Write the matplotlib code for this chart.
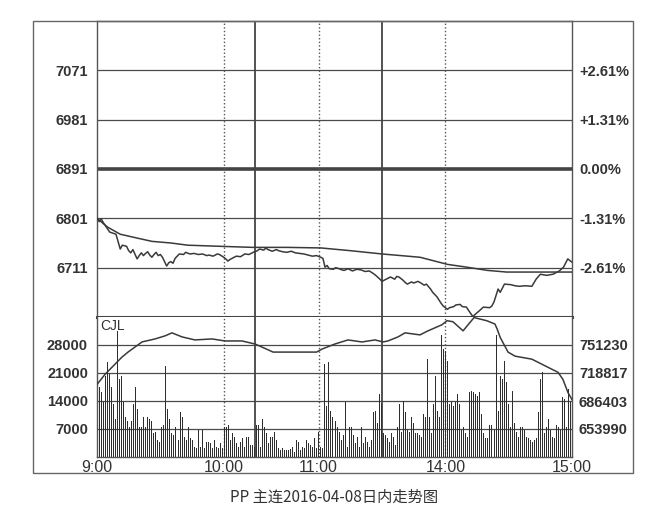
import numpy as np
import matplotlib
matplotlib.use("Agg")
import matplotlib.pyplot as plt
from matplotlib.patches import Rectangle

plt.rcParams['font.family'] = ['Liberation Sans', 'DejaVu Sans']

# ---------------- data ----------------
prev_settle = 6891
price_levels = [6711, 6801, 6891, 6981, 7071]

price_min = [0, 1, 2, 3, 6, 9, 11, 12, 14, 15, 16, 17, 19, 20, 21, 22, 23, 24, 25, 26,
             27, 28, 29, 30, 31, 32, 33, 34, 35, 36, 37, 39, 41, 42, 44, 46, 48, 50, 52, 53,
             55, 57, 58, 60, 61, 62, 63, 64, 66, 68, 70, 72, 74, 76, 77, 79, 80, 81, 83, 85,
             86, 88, 90, 92, 94, 96, 98, 100, 102, 104, 106, 107, 108, 109, 110, 112, 113, 114,
             116, 117, 119, 121, 123, 125, 127, 129, 131, 132, 134, 135, 137, 139, 140, 141,
             142, 143, 145, 146, 147, 149, 150, 152, 153, 155, 156, 158, 159, 161, 162, 163,
             164, 166, 167, 169, 170, 172, 173, 175, 176, 178, 181, 183, 186, 187, 188, 190,
             191, 193, 196, 198, 200, 203, 206, 208, 210, 213, 216, 219, 221, 223, 225]
price_val = [6801, 6795, 6800, 6793, 6776, 6772, 6745, 6752, 6750, 6742, 6738, 6744, 6727, 6733,
             6738, 6733, 6737, 6740, 6734, 6730, 6735, 6739, 6733, 6735, 6730, 6722, 6714, 6720,
             6722, 6719, 6728, 6736, 6735, 6739, 6736, 6737, 6735, 6736, 6733, 6734, 6732, 6736,
             6735, 6730, 6727, 6723, 6726, 6728, 6732, 6731, 6736, 6735, 6739, 6742, 6745, 6743,
             6747, 6744, 6741, 6744, 6742, 6740, 6739, 6741, 6738, 6737, 6736, 6734, 6732, 6733,
             6730, 6728, 6712, 6715, 6709, 6708, 6711, 6710, 6707, 6706, 6709, 6705, 6708, 6707,
             6704, 6705, 6700, 6697, 6690, 6686, 6690, 6694, 6692, 6690, 6695, 6694, 6688, 6684,
             6681, 6685, 6683, 6686, 6684, 6679, 6681, 6672, 6666, 6658, 6652, 6646, 6641, 6635,
             6638, 6640, 6643, 6644, 6640, 6639, 6633, 6622, 6632, 6639, 6638, 6641, 6648, 6672,
             6666, 6681, 6680, 6678, 6677, 6678, 6677, 6690, 6699, 6697, 6699, 6705, 6712, 6727,
             6721]

avg_min = [0, 5, 11, 19, 26, 35, 43, 58, 74, 90, 106, 120, 135, 153, 166, 175, 185, 194, 225]
avg_val = [6801, 6785, 6772, 6765, 6759, 6756, 6752, 6750, 6748, 6748, 6747, 6742, 6736, 6730,
           6717, 6712, 6706, 6703, 6703]

vol_levels = [7000, 14000, 21000, 28000]
oi_levels = [653990, 686403, 718817, 751230]

volume = [31400, 17500, 16200, 13700, 20300, 23800, 20800, 17500, 13200, 9400,
          31400, 19500, 20300, 13700, 10100, 8900, 7600, 8900, 13200, 17500,
          11900, 7600, 7400, 9900, 7600, 10100, 9400, 8900, 6100, 6300,
          4300, 3800, 7400, 8100, 22800, 11900, 9400, 6100, 5600, 7600,
          4300, 11200, 9900, 5100, 4300, 7400, 4800, 4300, 2500, 2300,
          6800, 2500, 6800, 2300, 3800, 3800, 3600, 2300, 4300, 2500,
          2300, 3600, 2300, 7600, 7400, 8100, 4300, 6100, 5100, 3600,
          2500, 3800, 4800, 2500, 5100, 5100, 3000, 3000, 2500, 8100,
          8100,
          2500, 9400, 7400, 6100, 3600, 5100, 5100, 6300, 4300, 2300,
          1800, 2300, 1800, 1800, 1800, 2000, 2500, 1300, 4300, 3800,
          1800, 2500, 2300, 4300, 3600, 3000, 2500, 4800, 2300, 6300,
          2500, 2300, 23300, 12700, 23800, 11400, 9900, 8900, 7600, 6300,
          4300, 5600, 13700, 2500, 7400, 7600, 5600, 3600, 5100, 2500,
          7400, 3600, 5100, 3800, 2500, 4300, 11200, 11400, 8600, 15700,
          13200, 6100, 5600, 4800, 3800, 6100, 5100, 3000, 7400, 13200,
          6300, 13900, 11200, 6800, 6300, 9900, 8600, 6100, 6100,
          5600, 5100, 10700, 10100, 24600, 9900, 6100, 13200, 20300, 11400,
          10100, 30400, 27100, 26600, 24100, 13200, 13700, 12700, 13700, 15700,
          13200, 6800, 7400, 6100, 5100, 16200, 16500, 16200, 15700, 15200,
          16200, 10700, 6100, 4800, 4800, 8100, 8100, 6800, 30400, 11400,
          20300, 19500, 24100, 18800, 13200, 7600, 16500, 8600, 6300, 5100,
          7600, 7600, 6800, 5100, 4800, 4300, 3800, 4300, 4800, 11200,
          19500, 21300, 6100, 7600, 9400, 6800, 5100, 4800, 8100, 7400,
          6800, 15000, 14500, 7600, 17000, 13700, 19000]

oi_min = [0, 3.8, 8.5, 11.8, 14.7, 21.3, 27.5, 32.2, 35.5, 40.3, 46.4, 54.5, 60.6, 68.7, 74.8,
          78, 83.4, 92.8, 104, 106.6, 112.7, 118.9, 125.5, 131.7, 135.5, 137.8, 142.6, 145.9,
          153, 156.8, 163.4, 165.8, 168.6, 173.4, 178.6, 184.7, 188.5, 189.5, 191, 194.7, 198,
          206, 213.6, 218.4, 220.7, 223.1, 225]
oi_val = [705537, 717253, 728970, 737170, 743030, 754745, 758260, 761774, 765290, 760600,
          757090, 758260, 755916, 755916, 752400, 749000, 743030, 743030, 743030, 746540,
          752400, 757090, 754745, 757090, 754745, 755916, 760600, 765290, 762945, 767632,
          774660, 779348, 778176, 767632, 783000, 779300, 775500, 770000, 760000, 743030,
          738342, 734828, 725453, 719595, 711395, 696164, 687960]

time_pos = [0, 60, 105, 165, 225]
time_labels = ['9:00', '10:00', '11:00', '14:00', '15:00']
solid_v = [75, 135]
dotted_v = [60, 105, 165]

# ---------------- figure ----------------
W, H = 660, 522
fig = plt.figure(figsize=(W / 100, H / 100), dpi=100)
fig.patch.set_facecolor('white')

L, R = 97, 572
TOP, SEP, BOT = 21, 317, 457
ax_p = fig.add_axes([L / W, (H - SEP) / H, (R - L) / W, (SEP - TOP) / H])
ax_v = fig.add_axes([L / W, (H - BOT) / H, (R - L) / W, (BOT - SEP) / H])

fig.add_artist(Rectangle((33 / W, (H - 473) / H), 600 / W, 452 / H,
                         transform=fig.transFigure, fill=False, ec='#666666', lw=1.0))

lc = '#3a3a3a'
gc = '#4a4a4a'
tc = '#333333'
FS = 10.5

# price panel
ax_p.set_xlim(0, 225)
ax_p.set_ylim(prev_settle - 270, prev_settle + 270)
for v in price_levels:
    if v == prev_settle:
        ax_p.axhline(v, color='#444444', lw=2.6, zorder=1)
    else:
        ax_p.axhline(v, color=gc, lw=0.9, zorder=1)
for m in solid_v:
    ax_p.axvline(m, color='#444444', lw=1.3, zorder=1)
for m in dotted_v:
    ax_p.axvline(m, color='#555555', lw=1.0, ls=(0, (1, 1.6)), zorder=1)
ax_p.plot(avg_min, avg_val, color=lc, lw=1.1, zorder=3)
ax_p.plot(price_min, price_val, color=lc, lw=1.1, zorder=3)
ax_p.set_yticks(price_levels)
ax_p.set_yticklabels([str(v) for v in price_levels])
ax_p.set_xticks([])
ax_p.tick_params(axis='y', length=0, pad=6.5, labelsize=FS, colors=tc)
for t in ax_p.get_yticklabels():
    t.set_fontweight('bold')
for s in ['left', 'right', 'top']:
    ax_p.spines[s].set_color('#555555')
    ax_p.spines[s].set_linewidth(1.0)
ax_p.spines['bottom'].set_color('#444444')
ax_p.spines['bottom'].set_linewidth(2.2)

ax_p2 = ax_p.twinx()
ax_p2.set_ylim(ax_p.get_ylim())
ax_p2.set_yticks(price_levels)
pct = []
for v in price_levels:
    p = (v - prev_settle) / prev_settle * 100
    pct.append('0.00%' if abs(p) < 1e-9 else f'{p:+.2f}%')
ax_p2.set_yticklabels(pct)
ax_p2.tick_params(axis='y', length=0, pad=5, labelsize=FS, colors=tc)
for t in ax_p2.get_yticklabels():
    t.set_fontweight('bold')
for s in ax_p2.spines.values():
    s.set_visible(False)

# volume panel
n = len(volume)
xb = np.linspace(0, 225, n)
ax_v.set_xlim(0, 225)
ax_v.set_ylim(0, 35000)
for v in vol_levels:
    ax_v.axhline(v, color=gc, lw=0.9, zorder=1)
for m in solid_v:
    ax_v.axvline(m, color='#444444', lw=1.3, zorder=1)
for m in dotted_v:
    ax_v.axvline(m, color='#555555', lw=1.0, ls=(0, (1, 1.6)), zorder=1)
ax_v.vlines(xb, 0, volume, colors='#2e2e2e', linewidth=0.72, antialiased=False,
            zorder=2)
ax_v.set_yticks(vol_levels)
ax_v.set_yticklabels([str(v) for v in vol_levels])
ax_v.tick_params(axis='y', length=0, pad=6.5, labelsize=FS, colors=tc)
for t in ax_v.get_yticklabels():
    t.set_fontweight('bold')
ax_v.set_xticks(time_pos)
ax_v.set_xticklabels(time_labels)
ax_v.tick_params(axis='x', length=0, pad=2.5, labelsize=11.5, colors=tc)
for s in ['left', 'right', 'bottom']:
    ax_v.spines[s].set_color('#555555')
    ax_v.spines[s].set_linewidth(1.0)
ax_v.spines['top'].set_visible(False)
ax_v.text(0.006, 0.985, 'CJL', transform=ax_v.transAxes, va='top', ha='left',
          fontsize=10, color=tc)

oi_step = (oi_levels[-1] - oi_levels[0]) / 3
oi_lo = oi_levels[0] - oi_step
oi_hi = oi_lo + 5 * oi_step
ax_o = ax_v.twinx()
ax_o.set_ylim(oi_lo, oi_hi)
ax_o.plot(oi_min, oi_val, color=lc, lw=1.1, zorder=3)
ax_o.set_yticks(oi_levels)
ax_o.set_yticklabels([str(v) for v in oi_levels])
ax_o.tick_params(axis='y', length=0, pad=5, labelsize=FS, colors=tc)
for t in ax_o.get_yticklabels():
    t.set_fontweight('bold')
for s in ax_o.spines.values():
    s.set_visible(False)

fig.text(334 / W, 1 - 497 / H, 'PP 主连2016-04-08日内走势图', ha='center', va='center',
         fontsize=11, color=tc, family=['Noto Sans CJK SC', 'DejaVu Sans'])

fig.savefig('out.png', dpi=100, facecolor='white')
